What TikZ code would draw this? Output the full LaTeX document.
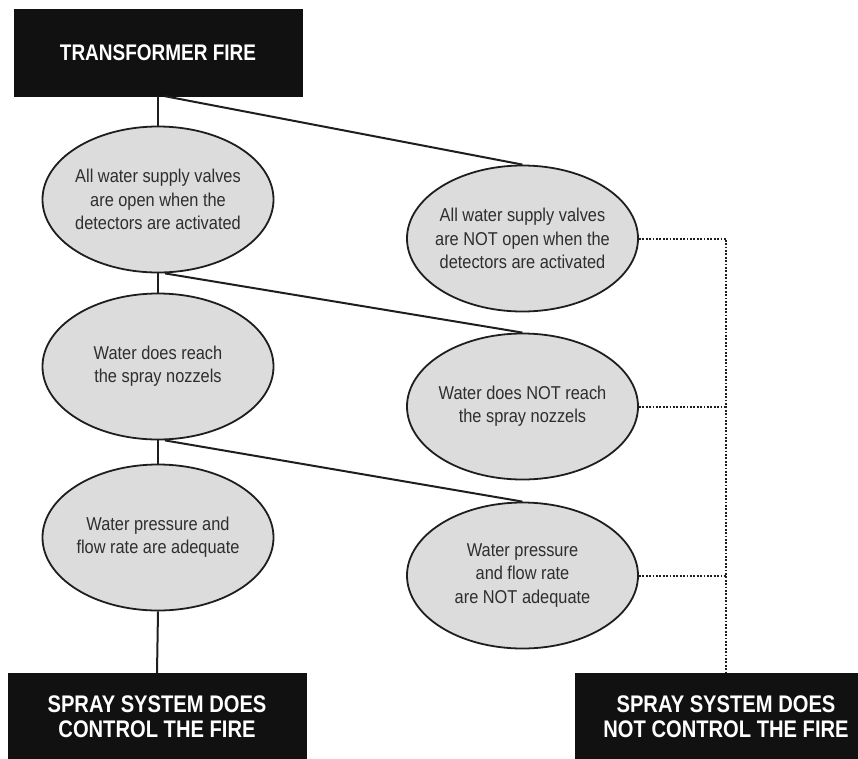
\documentclass[tikz,border=0pt]{standalone}
\usepackage{fontspec}
\setmainfont{Liberation Sans}
\newfontfamily\condensed[FakeStretch=0.84]{Liberation Sans}
\newfontfamily\ovalfont[FakeStretch=0.88]{Liberation Sans}
\usetikzlibrary{shapes.geometric}

\definecolor{ovalfill}{HTML}{DCDCDC}
\definecolor{ink}{HTML}{1E1E1E}
\definecolor{ovaltext}{HTML}{2E2E2E}
\definecolor{boxfill}{HTML}{111111}

\tikzset{
  outcome/.style={rectangle, fill=boxfill, draw=boxfill, text=white, align=center,
    inner sep=0pt, font=\condensed\bfseries\fontsize{24}{25}\selectfont},
  event/.style={ellipse, fill=ovalfill, draw=ink, line width=1.8pt, text=ovaltext,
    align=center, inner xsep=-20pt, inner ysep=0pt, minimum width=231pt, minimum height=146pt,
    font=\ovalfont\fontsize{18.6}{23.3}\selectfont},
  branch/.style={draw=ink, line width=2pt},
  failpath/.style={draw=ink, line width=2pt, dash pattern=on 1.8pt off 1.6pt}
}

\begin{document}
\begin{tikzpicture}[x=1pt, y=-1pt]
  \useasboundingbox (0,0) rectangle (858,758);

  % initiating event and final outcomes
  \node[outcome, minimum width=288pt, minimum height=87pt,
        font=\condensed\bfseries\fontsize{22.6}{25}\selectfont] (fire) at (158,52.5) {TRANSFORMER FIRE};
  \node[outcome, minimum width=298pt, minimum height=88pt] (ok) at (157,717) {SPRAY SYSTEM DOES\\CONTROL THE FIRE};
  \node[outcome, minimum width=302pt, minimum height=88pt] (fail) at (726,717) {SPRAY SYSTEM DOES\\NOT CONTROL THE FIRE};

  % success branch
  \node[event] (s1) at (158,199.5) {All water supply valves\\are open when the\\detectors are activated};
  \node[event] (s2) at (158,366.5) {Water does reach\\the spray nozzels};
  \node[event] (s3) at (158,537.5) {Water pressure and\\flow rate are adequate};

  % failure branch
  \node[event] (f1) at (522.5,238.5) {All water supply valves\\are NOT open when the\\detectors are activated};
  \node[event] (f2) at (522.5,406.5) {Water does NOT reach\\the spray nozzels};
  \node[event] (f3) at (522.5,575.5) {Water pressure\\and flow rate\\are NOT adequate};

  % solid connectors
  \draw[branch] (fire.south) -- (s1.north);
  \draw[branch] (s1.south) -- (s2.north);
  \draw[branch] (s2.south) -- (s3.north);
  \draw[branch] (s3.south) -- (ok.north);
  \draw[branch] ([xshift=7pt]fire.south) -- (f1.north);
  \draw[branch] ([xshift=7pt]s1.south) -- (f2.north);
  \draw[branch] ([xshift=7pt]s2.south) -- (f3.north);

  % dotted collector to the failure outcome
  \draw[failpath] (f1.east) -- (f1.east -| fail.north) -- (fail.north);
  \draw[failpath] (f2.east) -- (f2.east -| fail.north);
  \draw[failpath] (f3.east) -- (f3.east -| fail.north);
\end{tikzpicture}
\end{document}
